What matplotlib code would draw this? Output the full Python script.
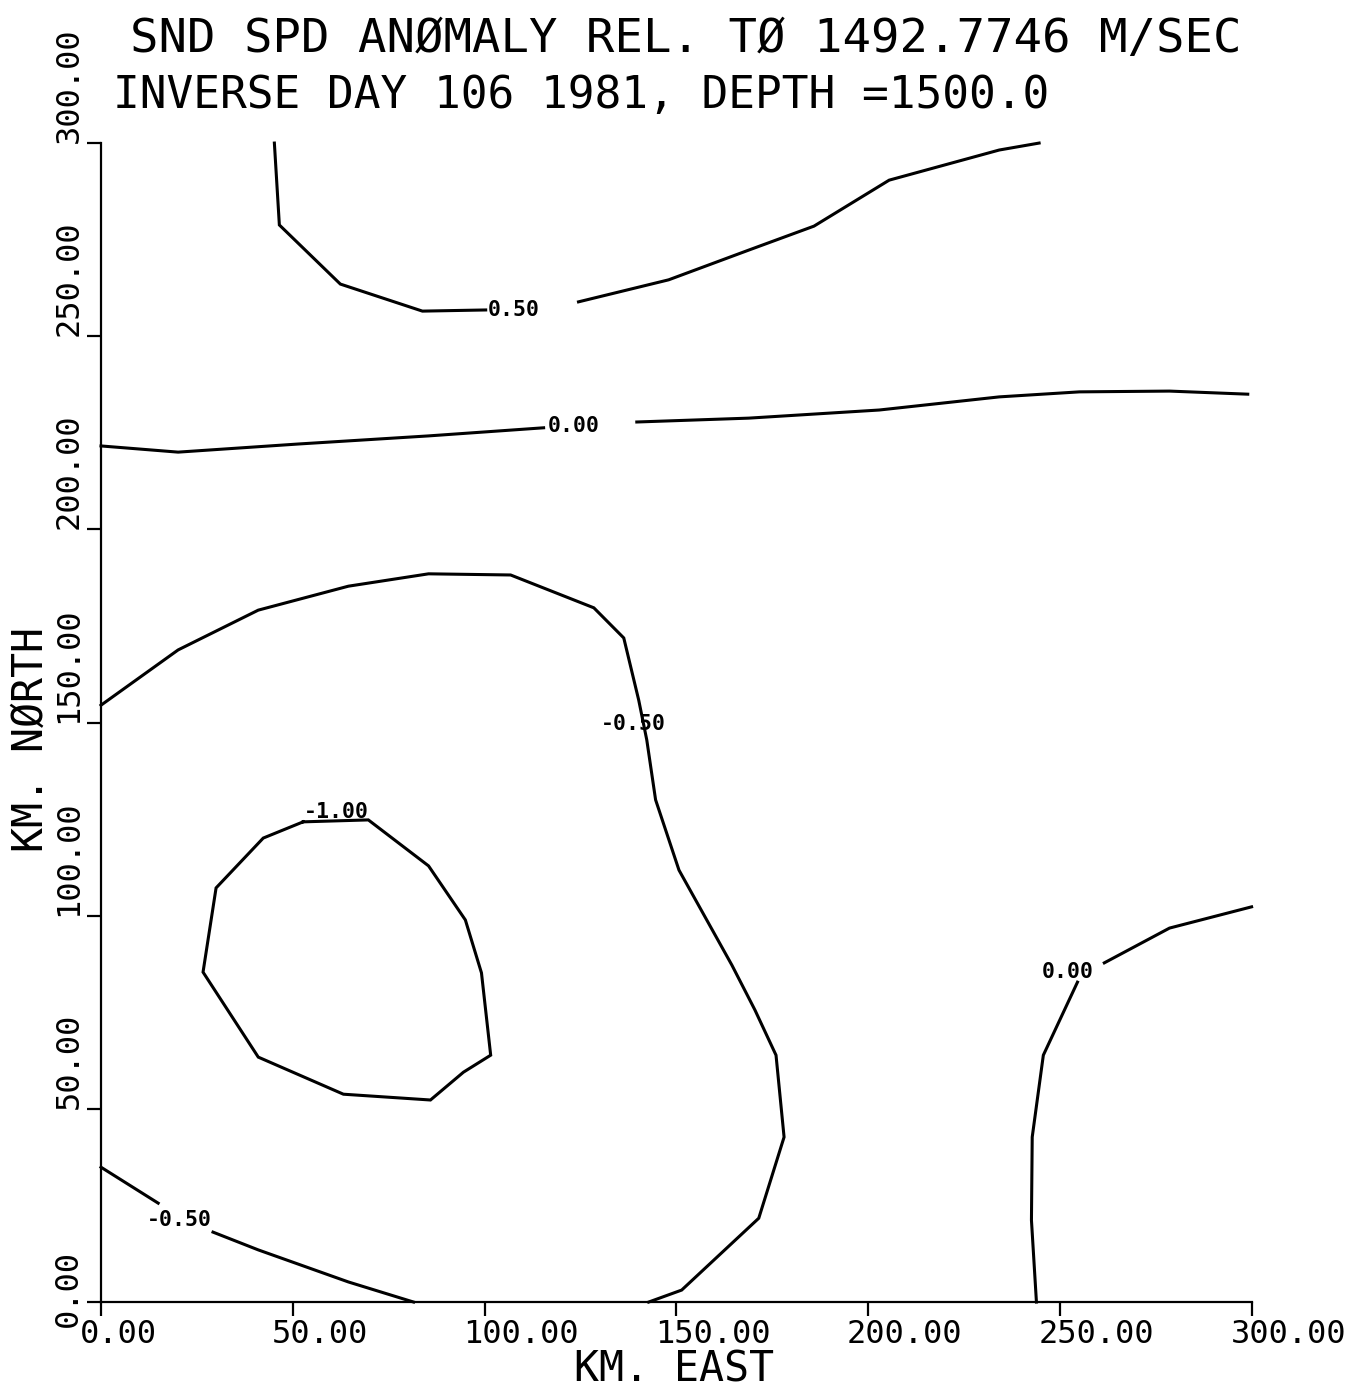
import matplotlib
matplotlib.use("Agg")
import matplotlib.pyplot as plt
import matplotlib.transforms as mtransforms

# ---- data (km east / km north) ----
xticks = [0, 50, 100, 150, 200, 250, 300]
yticks = [0, 50, 100, 150, 200, 250, 300]
tick_labels = ["0.00", "50.00", "100.00", "150.00", "200.00", "250.00", "300.00"]

# +0.50 contour (top), split at its label
c050a_x = [45.2, 46.5, 62.4, 83.8, 100.3]
c050a_y = [300.0, 278.8, 263.5, 256.5, 256.8]
c050b_x = [124.5, 148.0, 168.9, 185.9, 205.5, 234.2, 244.6]
c050b_y = [258.9, 264.6, 272.3, 278.5, 290.4, 298.2, 300.0]

# 0.00 contour (upper), split at its label
c000a_x = [0.0, 20.1, 51.4, 85.4, 115.4]
c000a_y = [221.6, 220.0, 222.1, 224.2, 226.3]
c000b_x = [139.7, 168.9, 202.9, 234.2, 255.1, 278.6, 299.0]
c000b_y = [227.8, 228.8, 230.9, 234.3, 235.6, 235.8, 235.0]

# -0.50 contour (large)
cm050_x = [0.0, 20.1, 41.0, 64.5, 85.4, 106.8, 128.5, 136.3, 140.2, 142.3,
           144.6, 150.7, 164.5, 170.5, 176.0, 178.1, 171.5, 151.4, 142.8]
cm050_y = [154.5, 168.8, 179.1, 185.3, 188.5, 188.2, 179.7, 171.9, 155.8, 145.5,
           130.0, 111.8, 87.2, 75.6, 63.9, 42.7, 21.7, 3.1, 0.0]

# -0.50 contour (lower left), split at its label
cm050la_x = [0.0, 14.9]
cm050la_y = [34.9, 25.6]
cm050lb_x = [29.2, 41.0, 64.5, 81.5]
cm050lb_y = [18.1, 13.5, 5.2, 0.0]

# -1.00 contour (closed)
cm100_x = [52.7, 42.3, 30.0, 26.6, 41.0, 63.2, 85.9, 94.5, 101.6, 99.2, 95.0, 85.4, 69.7]
cm100_y = [124.3, 120.1, 107.2, 85.4, 63.4, 53.8, 52.3, 59.5, 63.9, 85.2, 98.9, 112.9, 124.8]

# 0.00 contour (lower right), split at its label
c000la_x = [243.9, 242.6, 242.8, 245.7, 254.6]
c000la_y = [0.0, 21.2, 42.7, 63.9, 82.8]
c000lb_x = [261.6, 278.6, 300.0]
c000lb_y = [87.8, 96.8, 102.3]

# contour labels
lab_text = ["0.50", "0.00", "-0.50", "-1.00", "-0.50", "0.00"]
lab_x = [107.6, 123.2, 138.9, 61.4, 20.4, 252.0]
lab_y = [256.8, 226.8, 149.6, 126.8, 21.2, 85.4]

mono = "DejaVu Sans Mono"
plt.rcParams["font.family"] = mono

fig = plt.figure(figsize=(13.56, 13.89), dpi=100)
ax = fig.add_axes([0.0745, 0.0626, 0.8485, 0.8344])

segments = [(c050a_x, c050a_y), (c050b_x, c050b_y),
            (c000a_x, c000a_y), (c000b_x, c000b_y),
            (cm050_x, cm050_y),
            (cm050la_x, cm050la_y), (cm050lb_x, cm050lb_y),
            (cm100_x + cm100_x[:1], cm100_y + cm100_y[:1]),
            (c000la_x, c000la_y), (c000lb_x, c000lb_y)]
for sx, sy in segments:
    ax.plot(sx, sy, color="black", lw=2.2, solid_joinstyle="miter", clip_on=False)

for t, lx, ly in zip(lab_text, lab_x, lab_y):
    ax.text(lx, ly, t, fontsize=15.5, fontweight="bold", family=mono,
            ha="center", va="center", color="black")

ax.set_xlim(0, 300)
ax.set_ylim(0, 300)
for s in ["top", "right"]:
    ax.spines[s].set_visible(False)
for s in ["left", "bottom"]:
    ax.spines[s].set_linewidth(1.6)

ax.set_xticks(xticks, tick_labels, fontsize=23, ha="left")
ax.set_yticks(yticks, tick_labels, fontsize=23, rotation=90, va="bottom")
ax.tick_params(direction="out", length=10, width=1.6, pad=2)

off = mtransforms.ScaledTranslation(-0.21, 0, fig.dpi_scale_trans)
for lbl in ax.get_xticklabels():
    lbl.set_transform(lbl.get_transform() + off)
ylbls = ax.get_yticklabels()
ylbls[0].set_transform(ylbls[0].get_transform()
                       + mtransforms.ScaledTranslation(0, -0.25, fig.dpi_scale_trans))

fig.text(130 / 1356, 1 - 52 / 1389, "SND SPD ANØMALY REL. TØ 1492.7746 M/SEC",
         fontsize=34, ha="left", va="baseline")
fig.text(113 / 1356, 1 - 108 / 1389, "INVERSE DAY 106 1981, DEPTH =1500.0",
         fontsize=32, ha="left", va="baseline")
fig.text(674 / 1356, 1 - 1381 / 1389, "KM. EAST", fontsize=30,
         ha="center", va="baseline")
fig.text(31 / 1356, 1 - 740 / 1389, "KM. NØRTH", fontsize=30,
         ha="center", va="center", rotation=90)

fig.savefig("out.png", dpi=100, facecolor="white")
